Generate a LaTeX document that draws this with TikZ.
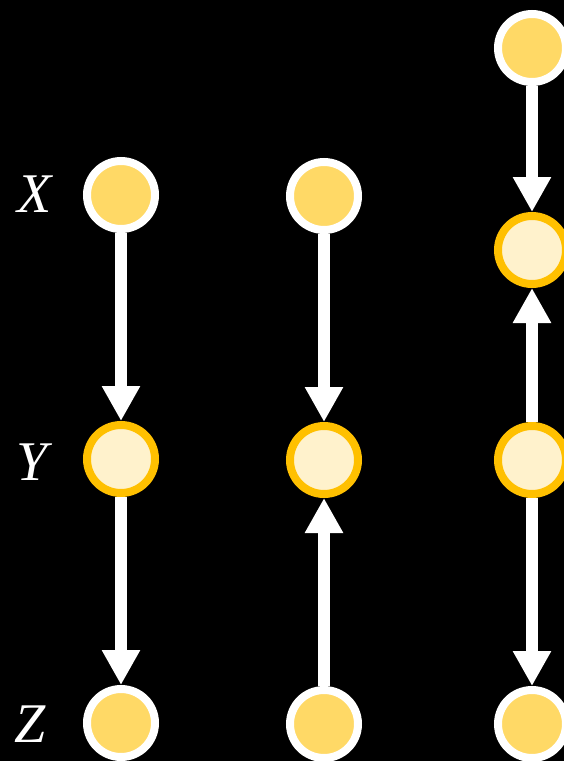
\documentclass[tikz,border=0pt]{standalone}
\usepackage{fontspec}
\setmainfont{Liberation Serif}
\usetikzlibrary{arrows.meta}
\definecolor{nodegold}{HTML}{FFD966}
\definecolor{nodecream}{HTML}{FFF2CC}
\definecolor{ringamber}{HTML}{FFC000}
\begin{document}
\begin{tikzpicture}[x=1pt,y=-1pt,
  varnode/.style={circle,minimum size=68pt,inner sep=0pt,line width=8pt,draw=white,fill=nodegold},
  condnode/.style={circle,minimum size=68pt,inner sep=0pt,line width=8pt,draw=ringamber,fill=nodecream},
  edge/.style={white,line width=12pt,-{Triangle[width=36pt,length=35pt]}},
  varlabel/.style={white,inner sep=0pt,font=\fontsize{56}{60}\selectfont\itshape}]
  \fill[black] (0,0) rectangle (564,761);
  \useasboundingbox (0,0) rectangle (564,761);

  % labels
  \node[varlabel] (lx) at (35,194) {X};
  \node[varlabel] (ly) at (32,462) {Y};
  \node[varlabel] (lz) at (30,724) {Z};

  % chain
  \node[varnode]  (x1) at (121,195) {};
  \node[condnode] (y1) at (121,459) {};
  \node[varnode]  (z1) at (121,723) {};
  \draw[edge] (x1) -- (y1);
  \draw[edge] (y1) -- (z1);

  % collider
  \node[varnode]  (x2) at (324,196) {};
  \node[condnode] (y2) at (324,460) {};
  \node[varnode]  (z2) at (324,724) {};
  \draw[edge] (x2) -- (y2);
  \draw[edge] (z2) -- (y2);

  % descendant of collider
  \node[varnode]  (w3) at (532,48) {};
  \node[condnode] (c3) at (532,250) {};
  \node[condnode] (y3) at (532,460) {};
  \node[varnode]  (z3) at (532,724) {};
  \draw[edge] (w3) -- (c3);
  \draw[edge] (y3) -- (c3);
  \draw[edge] (y3) -- (z3);
\end{tikzpicture}
\end{document}
